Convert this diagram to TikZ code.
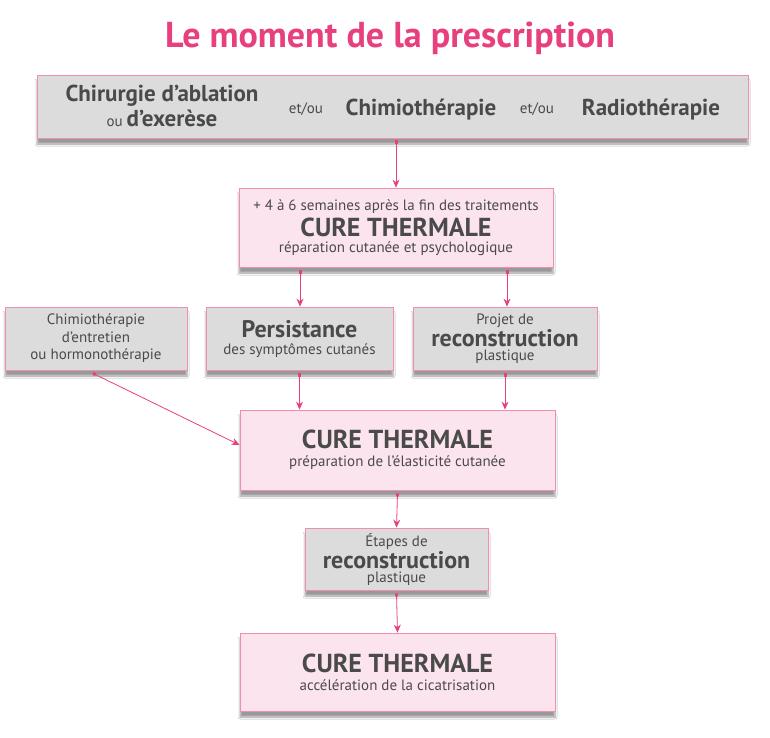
\documentclass[tikz,border=0pt]{standalone}
\usepackage{fontspec}
\setmainfont{PT Sans}
\usetikzlibrary{arrows.meta,shadows.blur}
\definecolor{rose}{HTML}{E8407F}
\definecolor{roseclair}{HTML}{FCE4EE}
\definecolor{gris}{HTML}{DCDCDC}
\definecolor{texte}{HTML}{4A4A4A}
\newcommand{\fs}[1]{\fontsize{#1}{\fpeval{1.1*#1}}\selectfont}
\tikzset{
  gbox/.style={draw=rose!60, fill=gris, line width=0.8pt, align=center, text=texte, inner sep=2pt,
    blur shadow={shadow xshift=0pt, shadow yshift=-6pt, shadow blur steps=6}},
  pbox/.style={gbox, fill=roseclair},
  fl/.style={draw=rose, line width=0.8pt, {Square[length=3pt,width=3pt]}-{Stealth[length=8pt,width=7pt]}}
}
\begin{document}
\begin{tikzpicture}[x=1pt,y=-1pt]
\useasboundingbox[fill=white] (0,0) rectangle (770,737);
\node (titre) at (390,38) {\fs{36}\bfseries\color{rose}Le moment de la prescription};

\node (trait) [gbox, minimum width=711, minimum height=63] at (392.5,106.5) {};
\node (chir) [align=center, text=texte] at (162,106) {\fs{23}\bfseries Chirurgie d’ablation\\[2pt]\fs{15}\mdseries ou \fs{23}\bfseries d’exerèse};
\node (etou1) [text=texte] at (306,109) {\fs{15}et/ou};
\node (chimio) [text=texte] at (421,110) {\fs{23}\bfseries Chimiothérapie};
\node (etou2) [text=texte] at (537,109) {\fs{15}et/ou};
\node (radio) [text=texte] at (651,110) {\fs{23}\bfseries Radiothérapie};

\node (cure1) [pbox, minimum width=314, minimum height=79] at (396,227.5)
  {\fs{15}+ 4 à 6 semaines après la fin des traitements\\[4pt]\fs{26}\bfseries CURE THERMALE\\[4pt]\fs{15}réparation cutanée et psychologique};
\node (entretien) [gbox, minimum width=182, minimum height=63, font=\fs{15}] at (96,338.5)
  {Chimiothérapie\\[1pt]d’entretien\\[1pt]ou hormonothérapie};
\node (persist) [gbox, minimum width=187, minimum height=63] at (299.5,338.5)
  {\fs{24}\bfseries Persistance\\[5pt]\fs{15}des symptômes cutanés};
\node (projet) [gbox, minimum width=184, minimum height=63] at (505,338.5)
  {\fs{15}Projet de\\[1pt]\fs{24}\bfseries reconstruction\\[2pt]\fs{15}plastique};
\node (cure2) [pbox, minimum width=315, minimum height=80] at (397.5,450)
  {\fs{26}\bfseries CURE THERMALE\\[6pt]\fs{15}préparation de l’élasticité cutanée};
\node (etapes) [gbox, minimum width=183, minimum height=62] at (396.5,559)
  {\fs{15}Étapes de\\[1pt]\fs{24}\bfseries reconstruction\\[2pt]\fs{15}plastique};
\node (cure3) [pbox, minimum width=315, minimum height=78] at (397.5,672)
  {\fs{26}\bfseries CURE THERMALE\\[6pt]\fs{15}accélération de la cicatrisation};

\draw[fl] ([yshift=-2pt]trait.south -| cure1.north) -- (cure1.north);
\draw[fl] ([xshift=-96pt,yshift=-3pt]cure1.south) -- ([xshift=-96pt]cure1.south |- persist.north);
\draw[fl] ([xshift=111pt,yshift=-3pt]cure1.south) -- ([xshift=111pt]cure1.south |- projet.north);
\draw[fl] ([yshift=-3pt]persist.south) -- (persist.south |- cure2.north);
\draw[fl] ([yshift=-3pt]projet.south) -- (projet.south |- cure2.north);
\draw[fl] ([xshift=-3pt,yshift=-3pt]entretien.south) -- ([yshift=5pt]cure2.west);
\draw[fl] ([yshift=-3pt]cure2.south) -- (etapes.north);
\draw[fl] ([yshift=-3pt]etapes.south) -- (cure3.north);
\end{tikzpicture}
\end{document}
